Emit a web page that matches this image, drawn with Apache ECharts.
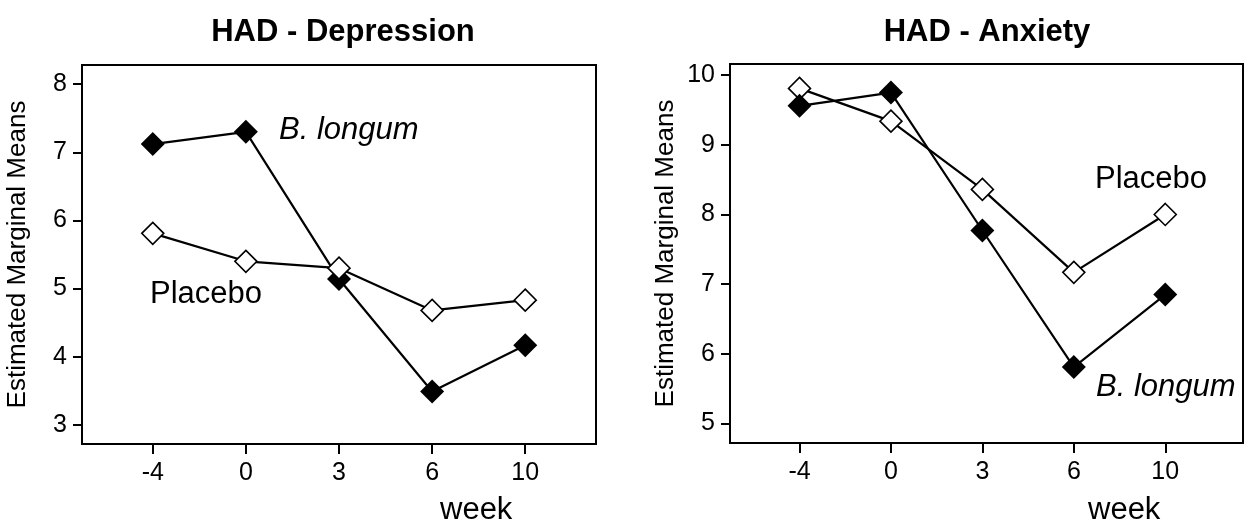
<!DOCTYPE html>
<html><head><meta charset="utf-8">
<script src="https://cdn.jsdelivr.net/npm/echarts@6/dist/echarts.min.js"></script>
<style>html,body{margin:0;padding:0;background:#fff}#c{width:1245px;height:526px}</style>
</head><body><div id="c"></div>
<script>
// ---- data ----
const weeks = ['-4', '0', '3', '6', '10'];
const depLongum  = [7.12, 7.30, 5.14, 3.49, 4.17];
const depPlacebo = [5.81, 5.40, 5.30, 4.68, 4.83];
const anxLongum  = [9.56, 9.75, 7.77, 5.81, 6.85];
const anxPlacebo = [9.81, 9.34, 8.36, 7.17, 8.00];
const depTicks = [3, 4, 5, 6, 7, 8];
const anxTicks = [5, 6, 7, 8, 9, 10];
const titles = ['HAD - Depression', 'HAD - Anxiety'];
const yName = 'Estimated Marginal Means';
const xName = 'week';

const FONT = 'Liberation Sans, Arial, sans-serif';
const idx = weeks.map((w, i) => i);
const pts = arr => arr.map((v, i) => [i, v]);

function xAxis(gi) {
  return {
    type: 'value', gridIndex: gi, min: -0.76, max: gi === 0 ? 4.76 : 4.85,
    splitLine: { show: false },
    axisLine: { show: true, onZero: false, lineStyle: { color: '#000', width: 2 } },
    axisTick: { show: true, customValues: idx, length: 10, lineStyle: { color: '#000', width: 2 } },
    axisLabel: { customValues: idx, formatter: v => weeks[Math.round(v)], color: '#000', fontSize: 25, fontFamily: FONT, margin: 17 }
  };
}
function yAxis(gi, ticks, min, max) {
  return {
    type: 'value', gridIndex: gi, min: min, max: max,
    splitLine: { show: false },
    axisLine: { show: true, onZero: false, lineStyle: { color: '#000', width: 2 } },
    axisTick: { show: true, customValues: ticks, length: 9, lineStyle: { color: '#000', width: 2 } },
    axisLabel: { customValues: ticks, color: '#000', fontSize: 25, fontFamily: FONT, margin: 15 },
    name: yName, nameLocation: 'middle', nameGap: 51,
    nameTextStyle: { color: '#000', fontSize: 26, fontFamily: FONT }
  };
}
function line(gi, arr, filled, z) {
  return {
    type: 'line', xAxisIndex: gi, yAxisIndex: gi, data: pts(arr), z: z,
    symbol: 'diamond', symbolSize: filled ? [24, 24] : [22, 22],
    lineStyle: { color: '#000', width: 2.2 },
    itemStyle: { color: filled ? '#000' : '#fff', borderColor: '#000', borderWidth: filled ? 0 : 1.6, opacity: 1 },
    animation: false
  };
}

const chart = echarts.init(document.getElementById('c'), null, { renderer: 'canvas' });
chart.setOption({
  backgroundColor: '#fff',
  animation: false,
  title: [
    { text: titles[0], left: 338, top: 12, textAlign: 'center', textStyle: { fontSize: 31, fontWeight: 'bold', color: '#000', fontFamily: FONT } },
    { text: titles[1], left: 982, top: 12, textAlign: 'center', textStyle: { fontSize: 31, fontWeight: 'bold', color: '#000', fontFamily: FONT } }
  ],
  grid: [
    { left: 82, top: 65, width: 514, height: 379, show: true, borderColor: '#000', borderWidth: 2, backgroundColor: '#fff' },
    { left: 730, top: 64, width: 513, height: 379, show: true, borderColor: '#000', borderWidth: 2, backgroundColor: '#fff' }
  ],
  xAxis: [xAxis(0), xAxis(1)],
  yAxis: [yAxis(0, depTicks, 2.72, 8.28), yAxis(1, anxTicks, 4.72, 10.16)],
  series: [
    line(0, depLongum, true, 2),
    line(0, depPlacebo, false, 3),
    line(1, anxPlacebo, false, 2),
    line(1, anxLongum, true, 3)
  ],
  graphic: [
    { type: 'text', left: 279, top: 115, style: { text: 'B. longum', fontSize: 31, fontStyle: 'italic', fontFamily: FONT, fill: '#000' } },
    { type: 'text', left: 150, top: 279, style: { text: 'Placebo', fontSize: 31, fontFamily: FONT, fill: '#000' } },
    { type: 'text', left: 1095, top: 164, style: { text: 'Placebo', fontSize: 31, fontFamily: FONT, fill: '#000' } },
    { type: 'text', left: 1096, top: 372, style: { text: 'B. longum', fontSize: 31, fontStyle: 'italic', fontFamily: FONT, fill: '#000' } },
    { type: 'text', left: 440, top: 495, style: { text: xName, fontSize: 31, fontFamily: FONT, fill: '#000' } },
    { type: 'text', left: 1088, top: 495, style: { text: xName, fontSize: 31, fontFamily: FONT, fill: '#000' } }
  ]
});
</script></body></html>
